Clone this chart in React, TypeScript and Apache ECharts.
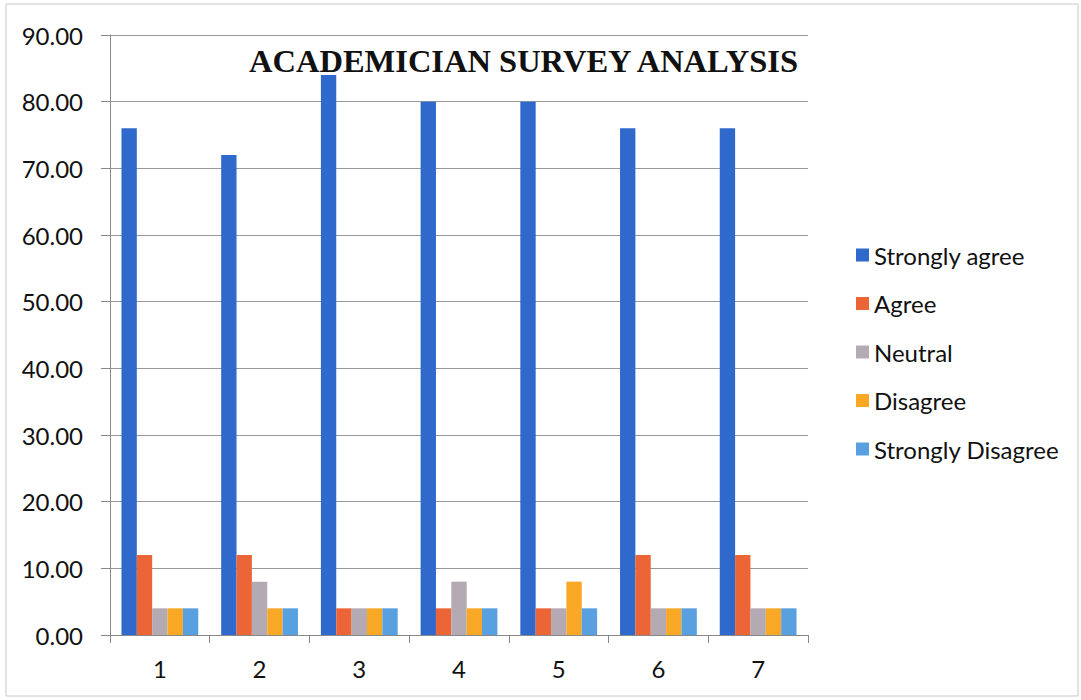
import React, { useEffect, useRef } from "react";
import * as echarts from "echarts";

const categories = ["1", "2", "3", "4", "5", "6", "7"];
const seriesNames = ["Strongly agree", "Agree", "Neutral", "Disagree", "Strongly Disagree"];
const stronglyAgree = [76, 72, 84, 80, 80, 76, 76];
const agree = [12, 12, 4, 4, 4, 12, 12];
const neutral = [4, 8, 4, 8, 4, 4, 4];
const disagree = [4, 4, 4, 4, 8, 4, 4];
const stronglyDisagree = [4, 4, 4, 4, 4, 4, 4];
const colors = ["#3069cc", "#ec6536", "#b3aab3", "#f9a826", "#58a0e0"];
const titleText = "ACADEMICIAN SURVEY ANALYSIS";

export default function App() {
  const ref = useRef<HTMLDivElement>(null);
  useEffect(() => {
    document.body.style.margin = "0";
    const chart = echarts.init(ref.current!, null, { renderer: "svg" });
    const data = [stronglyAgree, agree, neutral, disagree, stronglyDisagree];
    chart.setOption({
      animation: false,
      backgroundColor: "#ffffff",
      color: colors,
      title: {
        text: titleText,
        left: 244,
        top: 39,
        textStyle: {
          fontFamily: "Liberation Serif",
          fontWeight: "bold",
          fontSize: 32.5,
          color: "#111",
        },
      },
      legend: {
        orient: "vertical",
        left: 851,
        top: 238,
        itemWidth: 13,
        itemHeight: 13,
        itemGap: 24.5,
        icon: "rect",
        textStyle: { fontFamily: "Lato", fontSize: 24, color: "#111" },
        data: seriesNames,
      },
      grid: { left: 110, right: 273, top: 35, bottom: 65 },
      xAxis: {
        type: "category",
        data: categories,
        axisLine: { lineStyle: { color: "#888", width: 1 } },
        axisTick: { show: true, length: 8, lineStyle: { color: "#888" } },
        axisLabel: { fontFamily: "Lato", fontSize: 24, color: "#111", margin: 21 },
      },
      yAxis: {
        type: "value",
        min: 0,
        max: 90,
        interval: 10,
        axisLine: { show: true, lineStyle: { color: "#888", width: 1 } },
        axisTick: { show: true, length: 9, lineStyle: { color: "#888" } },
        axisLabel: {
          fontFamily: "Lato",
          fontSize: 24,
          color: "#111",
          margin: 27,
          formatter: (v: number) => v.toFixed(2),
        },
        splitLine: { lineStyle: { color: "#999", width: 1 } },
      },
      series: seriesNames.map((name, i) => ({
        name,
        type: "bar",
        data: data[i],
        barGap: "0%",
        barCategoryGap: "23%",
        itemStyle: { color: colors[i] },
      })),
      graphic: [
        {
          type: "rect",
          shape: { x: 6, y: 4, width: 1072, height: 692 },
          style: { fill: "none", stroke: "#c8c8c8", lineWidth: 1 },
          silent: true,
        },
      ],
    });
    return () => chart.dispose();
  }, []);
  return <div ref={ref} style={{ width: 1081, height: 700 }} />;
}
